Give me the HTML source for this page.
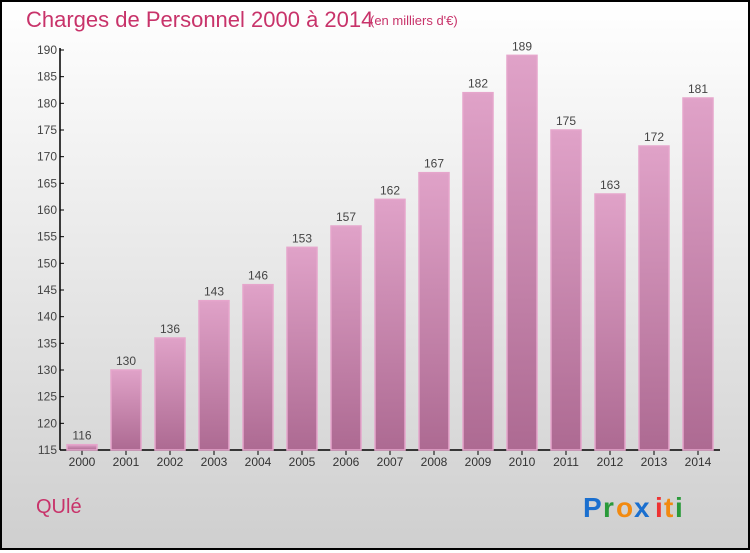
<!DOCTYPE html>
<html><head><meta charset="utf-8"><style>
body{margin:0;width:750px;height:550px;overflow:hidden;font-family:"Liberation Sans",sans-serif}
#frame{position:absolute;left:0;top:0;width:746px;height:546px;border:2px solid #000;background:linear-gradient(#fff,#cfcfcf)}
</style></head><body>
<div id="frame">
<svg width="746" height="546" viewBox="2 2 746 546" id="chart">
<defs><linearGradient id="bg" x1="0" y1="0" x2="0" y2="1"><stop offset="0" stop-color="#e0a2c8"/><stop offset="1" stop-color="#ad6a92"/></linearGradient></defs>
<text x="26" y="27" font-size="22" fill="#c8336a">Charges de Personnel 2000 à 2014</text>
<text x="370" y="25" font-size="13" fill="#c8336a">(en milliers d'€)</text>
<text x="36" y="513" font-size="20" fill="#c8336a">QUlé</text>
<g font-size="28" font-weight="bold">
<text x="583" y="517" fill="#1a6fcf">P</text><text x="603" y="517" fill="#2a9a3a">r</text><text x="616" y="517" fill="#f28a10">o</text><text x="634" y="517" fill="#1a6fcf">x</text><text x="655" y="517" fill="#e33">i</text><text x="664" y="517" fill="#f28a10">t</text><text x="675" y="517" fill="#2a9a3a">i</text>
</g>
<g id="axes"></g><g id="bars"></g>
</svg></div>
<script>
const categories=["2000","2001","2002","2003","2004","2005","2006","2007","2008","2009","2010","2011","2012","2013","2014"];
const values=[116,130,136,143,146,153,157,162,167,182,189,175,163,172,181];
const yTicks=[115,120,125,130,135,140,145,150,155,160,165,170,175,180,185,190];
const NS="http://www.w3.org/2000/svg";
const yMin=115,yMax=190,y0=450,y1=50;
function y(v){return y0-(v-yMin)/(yMax-yMin)*(y0-y1);}
function x(i){return 82+i*44;}
function mk(t,a,p){const e=document.createElementNS(NS,t);for(const k in a)e.setAttribute(k,a[k]);p.appendChild(e);return e;}
const ax=document.getElementById('axes'),bs=document.getElementById('bars');
const yl=mk('line',{x1:60,y1:48,x2:60,y2:450,stroke:'#000','stroke-width':1.5},ax);


const xl=mk('line',{x1:60,y1:450,x2:720,y2:450,stroke:'#000','stroke-width':1.5},ax);


yTicks.forEach(v=>{
 mk('line',{x1:60,x2:64,y1:y(v),y2:y(v),stroke:'#000'},ax);
 const t=mk('text',{x:57,y:y(v)+4,'font-size':12,'text-anchor':'end',fill:'#444'},ax);t.textContent=v;
 
 
});
categories.forEach((c,i)=>{
 const v=values[i];
 mk('line',{x1:x(i),x2:x(i),y1:450,y2:455,stroke:'#000'},ax);
 const t=mk('text',{x:x(i),y:466,'font-size':12,'text-anchor':'middle',fill:'#333'},ax);t.textContent=c;
 
 
 const r=mk('rect',{x:x(i)-15,y:y(v),width:30,height:450-y(v),fill:'url(#bg)',stroke:'#e6a6cc','stroke-width':1.5},bs);
 
 
 const l=mk('text',{x:x(i),y:y(v)-5,'font-size':12,'text-anchor':'middle',fill:'#444'},bs);l.textContent=v;
 
 
});
</script>
</body></html>
